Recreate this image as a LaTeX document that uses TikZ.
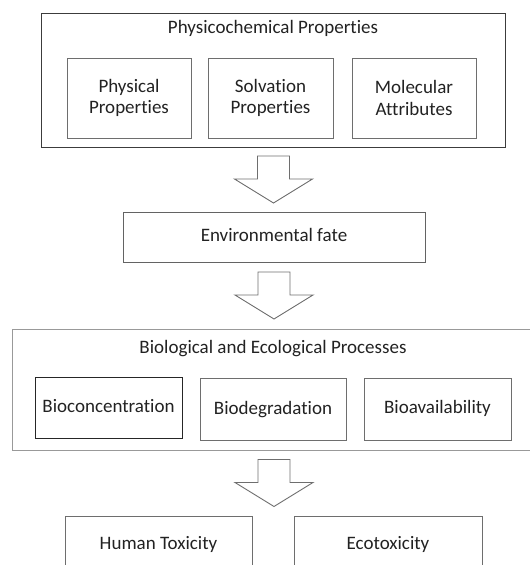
\documentclass[tikz,border=0pt]{standalone}
\usepackage{fontspec}
\setmainfont[Ligatures=NoCommon]{Carlito}
\usetikzlibrary{calc}
\definecolor{boxgray}{HTML}{6E6E6E}
\definecolor{darkbox}{HTML}{3C3C3C}
\definecolor{txtgray}{HTML}{222222}
\begin{document}
\begin{tikzpicture}[x=1pt, y=-1pt,
    every node/.style={shape=rectangle, inner sep=0pt, text=txtgray,
                  font=\fontsize{19}{21.5}\selectfont, align=center},
    oneline/.style={text height=13pt, text depth=4pt},
    box/.style={draw=boxgray, line width=1pt},
    outerbox/.style={draw=darkbox, line width=1pt},
    arrowline/.style={draw=boxgray, line width=0.9pt, line join=miter},
    blockarrow/.pic={\draw[arrowline] (-16,-23.5) -- (16,-23.5) -- (16,-0.5) -- (39,-0.5)
                  -- (0,23.5) -- (-39,-0.5) -- (-16,-0.5) -- cycle;}]
              \useasboundingbox (0,0) rectangle (530,565);
              \clip (0,0) rectangle (530,565);
              % top group
              \node[outerbox, minimum width=464pt, minimum height=134pt] (physchem) at (273,80) {};
              \node[oneline] (physchemtitle) at (273,29) {Physicochemical Properties};
              \node[box, minimum width=124pt, minimum height=80pt] (physical) at (129,98) {Physical\\Properties};
              \node[box, minimum width=125pt, minimum height=80pt] (solvation) at (270.5,98) {Solvation\\Properties};
              \node[box, minimum width=124pt, minimum height=80pt] (molecular) at (414,98) {Molecular\\Attributes};
              % middle
              \node[box, oneline, draw=darkbox!80, minimum width=302pt, minimum height=50pt] (envfate) at (274,237) {Environmental fate};
              % bio group
              \node[box, draw=boxgray!70, minimum width=533pt, minimum height=121pt] (bioproc) at (278.5,389.5) {};
              \node[oneline] (biotitle) at (273,349) {Biological and Ecological Processes};
              \node[box, oneline, draw=black!85, minimum width=147pt, minimum height=61pt] (biocon) at (108.5,408) {Bioconcentration};
              \node[box, oneline, minimum width=146pt, minimum height=62pt] (biodeg) at (273,409.5) {Biodegradation};
              \node[box, oneline, minimum width=147pt, minimum height=62pt] (bioavail) at (437.5,409) {Bioavailability};
              % outcomes
              \node[box, oneline, minimum width=187pt, minimum height=58pt] (humantox) at (158.5,545) {Human Toxicity};
              \node[box, oneline, minimum width=188pt, minimum height=58pt] (ecotox) at (388,545) {Ecotoxicity};
              % arrows
              \pic at ($(physchem.south)!.5!(envfate.north)$) {blockarrow};
              \pic at ($(envfate.south)!.5!(envfate.south |- bioproc.north)$) {blockarrow};
              \pic at ($(envfate.center |- bioproc.south)!.5!(envfate.center |- humantox.north)$) {blockarrow};
          \end{tikzpicture}
\end{document}
